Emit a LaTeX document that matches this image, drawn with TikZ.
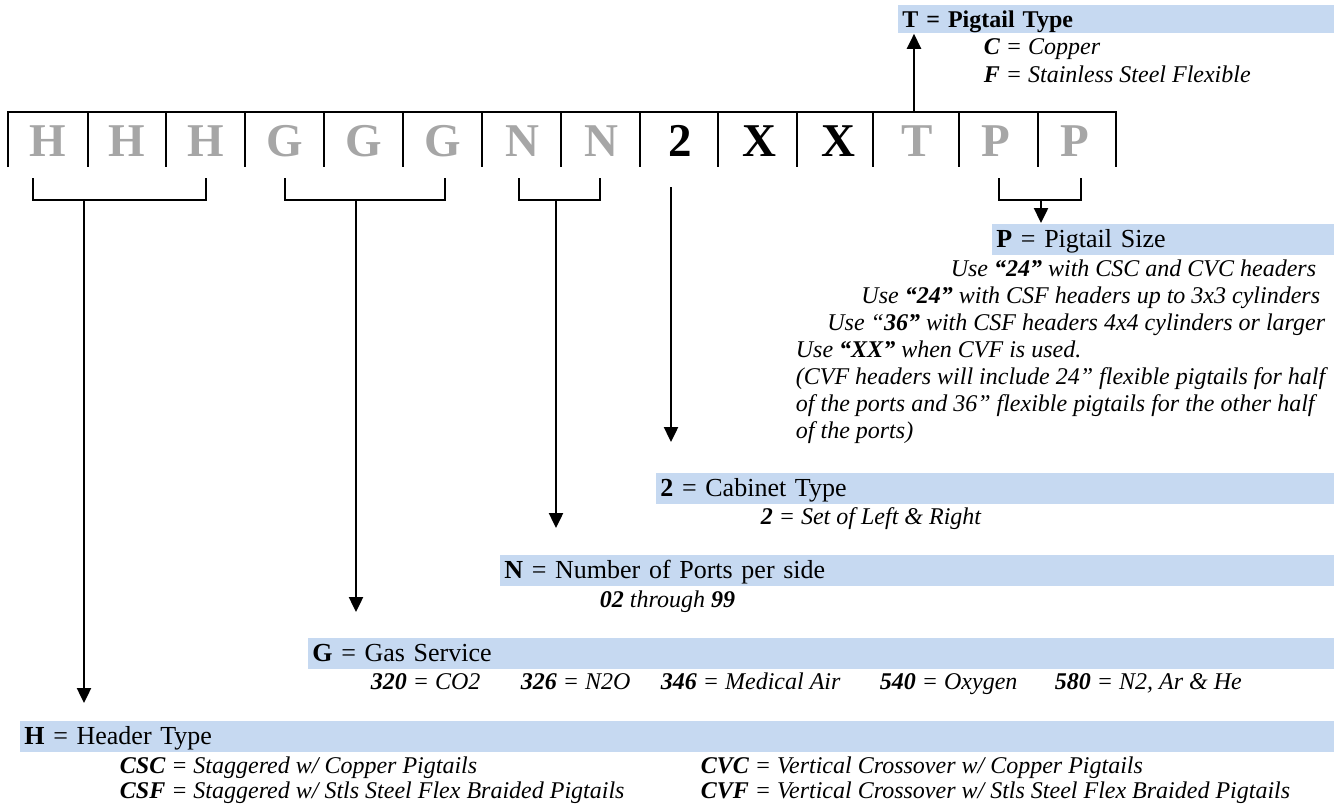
\documentclass[tikz,border=0pt]{standalone}
\usepackage{fontspec}
\setmainfont{Liberation Serif}
\usetikzlibrary{arrows.meta,positioning}
\definecolor{lettergray}{HTML}{A6A6A6}
\definecolor{bandblue}{HTML}{C6D9F1}
\newcommand{\cellfont}{\fontsize{47}{50}\selectfont\bfseries}
\newcommand{\headfont}{\fontsize{26}{30}\selectfont}
\newcommand{\rowfont}{\fontsize{24}{28}\selectfont\itshape}
\tikzset{
  cell/.style={font=\cellfont, inner sep=0pt, text height=31pt, text depth=0pt},
  cellgray/.style={cell, text=lettergray},
  band/.style={anchor=north west, fill=bandblue, inner xsep=4.5pt, inner ysep=0pt,
    minimum height=31pt, text height=24pt, text depth=7pt, font=\headfont, align=left},
  row/.style={anchor=base west, inner sep=0pt, font=\rowfont},
  arr/.style={line width=2.4pt, -{Triangle[width=14pt,length=15pt]}},
}
\begin{document}
\begin{tikzpicture}[x=1pt, y=-1pt, node distance=79pt, line width=1.8pt]
        \useasboundingbox (0,0) rectangle (1343,807);
        \node[cellgray] (H1) at (48,140.5) {H};
        \node[cellgray, right of=H1] (H2) {H};
        \node[cellgray, right of=H2] (H3) {H};
        \node[cellgray, right of=H3] (G1) {G};
        \node[cellgray, right of=G1] (G2) {G};
        \node[cellgray, right of=G2] (G3) {G};
        \node[cellgray, right of=G3] (N1) {N};
        \node[cellgray, right of=N1] (N2) {N};
        \node[cell, right of=N2] (C2) {2};
        \node[cell, right of=C2] (X1) {X};
        \node[cell, right of=X1] (X2) {X};
        \node[cellgray, right of=X2] (T1) {T};
        \node[cellgray, right of=T1] (P1) {P};
        \node[cellgray, right of=P1] (P2) {P};
        \draw (8,167) -- (8,112) -- (1116,112) -- (1116,167)
          (88,112) -- (88,167) (166,112) -- (166,167) (245,112) -- (245,167)
          (324,112) -- (324,167) (403,112) -- (403,167) (482,112) -- (482,167)
          (561,112) -- (561,167) (640,112) -- (640,167) (718,112) -- (718,167)
          (797,112) -- (797,167) (873,112) -- (873,167) (959,112) -- (959,167)
          (1038,112) -- (1038,167);
        \draw (33,178) |- (206,200) -- (206,178);
        \draw (285,178) |- (445,200) -- (445,178);
        \draw (519,178) |- (600,200) -- (600,178);
        \draw (999,178) |- (1081,200) -- (1081,178);
        \coordinate (hstem) at (84,200);
        \coordinate (gstem) at (356,200);
        \coordinate (nstem) at (556,200);
        \coordinate (cabtop) at (671,187);
        \coordinate (pstem) at (1041,200);
        \coordinate (tbase) at (914,112);
        \node[band, font=\fontsize{24}{28}\selectfont\bfseries, minimum height=28pt,
          text height=23pt, text depth=5pt, text width=427pt] (tband) at (897,4)
          {T = Pigtail Type};
        \node[row] (tcopper) at (983,54) {\textbf{C} = Copper};
        \node[row] (tflex) at (983,82) {\textbf{F} = Stainless Steel Flexible};
        \node[band, text width=333pt] (pband) at (991,223) {\textbf{P} = Pigtail Size};
        \node[row, anchor=base east] (puse1) at (1317,276)
          {Use \textbf{“24”} with CSC and CVC headers};
        \node[row, anchor=base east] (puse2) at (1321,303)
          {Use \textbf{“24”} with CSF headers up to 3x3 cylinders};
        \node[row, anchor=base east] (puse3) at (1326,330)
          {Use “\textbf{36”} with CSF headers 4x4 cylinders or larger};
        \node[row] (puse4) at (795,357) {Use \textbf{“XX”} when CVF is used.};
        \node[row] (pnote1) at (795,384)
          {(CVF headers will include 24” flexible pigtails for half};
        \node[row] (pnote2) at (795,411)
          {of the ports and 36” flexible pigtails for the other half};
        \node[row] (pnote3) at (795,438) {of the ports)};
        \node[band, text width=669pt] (cband) at (655,472) {\textbf{2} = Cabinet Type};
        \node[row] (cset) at (760,524) {\textbf{2} = Set of Left \& Right};
        \node[band, text width=825pt] (nband) at (499,554)
          {\textbf{N} = Number of Ports per side};
        \node[row] (nrange) at (599,607) {\textbf{02} through \textbf{99}};
        \node[band, text width=1017pt] (gband) at (307,637) {\textbf{G} = Gas Service};
        \node[row] (gco) at (370,689) {\textbf{320} = CO2};
        \node[row] (gnto) at (520,689) {\textbf{326} = N2O};
        \node[row] (gair) at (660,689) {\textbf{346} = Medical Air};
        \node[row] (goxy) at (879,689) {\textbf{540} = Oxygen};
        \node[row] (gmix) at (1054,689) {\textbf{580} = N2, Ar \& He};
        \node[band, text width=1305pt] (hband) at (19,720) {\textbf{H} = Header Type};
        \node[row] (hcsc) at (119,773) {\textbf{CSC} = Staggered w/ Copper Pigtails};
        \node[row] (hcsf) at (119,798)
          {\textbf{CSF} = Staggered w/ Stls Steel Flex Braided Pigtails};
        \node[row] (hcvc) at (700,773)
          {\textbf{CVC} = Vertical Crossover w/ Copper Pigtails};
        \node[row] (hcvf) at (700,798)
          {\textbf{CVF} = Vertical Crossover w/ Stls Steel Flex Braided Pigtails};
        \draw[arr, shorten >=17pt] (hstem) -- (hstem |- hband.north);
        \draw[arr, shorten >=25pt] (gstem) -- (gstem |- gband.north);
        \draw[arr, shorten >=26pt] (nstem) -- (nstem |- nband.north);
        \draw[arr, shorten >=30pt] (cabtop) -- (cabtop |- cband.north);
        \draw[arr] (pstem) -- (pstem |- pband.north);
        \draw[arr] (tbase) -- (tbase |- tband.south);
\end{tikzpicture}
\end{document}
